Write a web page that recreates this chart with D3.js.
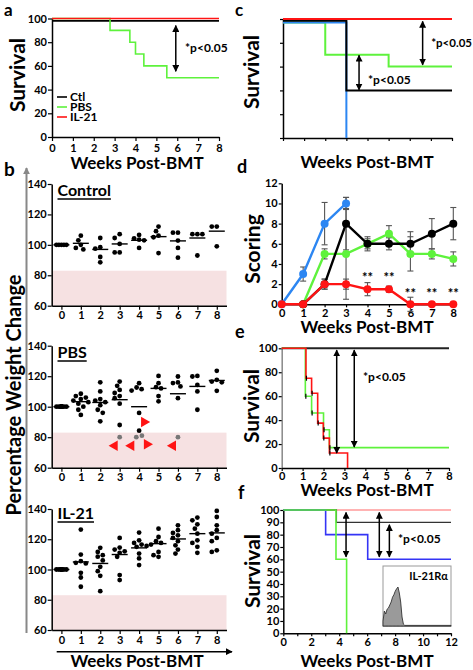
<!DOCTYPE html>
<html><head><meta charset="utf-8">
<script src="https://cdn.jsdelivr.net/npm/d3@7"></script>
<style>body{margin:0;background:#fff} text{font-family:Lato,'Open Sans',sans-serif;font-weight:700}</style>
</head><body><script>
// ---------------- DATA ----------------
const weeks = [0,1,2,3,4,5,6,7,8];
// panel a (survival, % ; step points [week, value])
const aCtl  = [[0,98],[8,98]];
const aPBS  = [[0,100],[2.78,90],[3.73,80],[4.0,70],[4.4,60],[5.5,50],[8,50]];
const aIL21 = [[0,100],[8,100]];
const legendNames = ["Ctl","PBS","IL-21"];
// panel b (percentage weight change per week)
const ctlValues = [[100,100,100,100,100],[106,103,100,98,97],[104.5,98.5,97.5,92,88.5],[107,104.5,100.6,95,95],[106.5,104.3,103.4,103,98],[112,109,106,105,94.6],[108,108,102.8,98,91.6],[107,107,107,93],[112,112,99]];
const ctlMeans  = [100,101,97,100.6,103,105.4,102.6,104.5,109];
const pbsValues = [[100,100,100,100,100,100,100,100,100,100],[108.5,107,106,105,104,103,102,100,98,94.6],[116,110,105,104,103,101,98,96,90.4],[116.5,113.7,111,109,107,105.6,102,88],[115.4,112.6,111.5,110.6,95.9,84.3],[120.2,115.4,112.8,112,107,103.5],[119.8,115.9,115.5,113.3,105.6],[120.2,119.8,114.3,110,98],[123.5,117.6,116.5,116,110.4]];
const pbsMeans  = [100,103.3,102.8,104.6,100,112,108.5,113.3,117.2];
const pbsDead   = [[3,80],[4,80],[4,81],[6,80]];           // grey points (week, value)
const pbsPointers = [[3,80,-60],[4,80,-60],[4,81,-120],[4,84.3,120],[6,80,-60]]; // red arrowheads: target (week,value), direction (deg)
const ilValues  = [[100,100,100,100,100,100,100,100],[126.4,109.9,105.5,104.4,104,97.8,94.7,88.6],[114.3,111.6,109.5,108.5,106,101.8,98.9,95.8,85.7],[120.9,114.5,113.2,112,111,108.4,96.3,93],[124.4,119.3,117.6,116.5,115.6,115,110.5,107.3,102.9],[127,121.5,118.7,117.6,116.5,111.6,109.5,108.4],[129.2,126,124.2,122.6,120.9,118.7,116,113.2,110.5],[134.3,132.5,129.9,127,123.7,119.3,117.6,115,111],[138.7,134.7,129.2,126,123.7,120.9,118.7,112.7,111.6]];
const ilMeans   = [100,105,104,109.9,114.3,117.1,120.2,123.7,124.2];
const weightThreshold = 83;
const bTitles = ["Control","PBS","IL-21"];
const bTicks = [60,80,100,120,140];
// panel c
const cRed   = [[0,100],[8,100]];
const cBlack = [[0,98.5],[3,40],[8,40]];
const cGreen = [[0,97],[2,70],[5,60],[8,60]];
const cBlue  = [[0,97],[3,0]];
// panel d (scoring, mean and error)
const dBlueW = [0,1,2,3],         dBlue = [0,3,8,10],             dBlueErr = [0,0.7,2.1,0.6];
const dBlackW = [1,2,3,4,5,6,7,8], dBlack = [0,2,8,6,6,6,7,8],     dBlackErr = [0,0.5,2.6,0.7,0.6,1.2,1.5,1.6];
const dGreenW = [1,2,3,4,5,6,7,8], dGreen = [0,5,5,6,7,5,5,4.5],   dGreenErr = [0,0.5,4.5,0.5,0.8,1.7,0.5,0.7];
const dRedW = [0,1,2,3,4,5,6,7,8], dRed = [0,0,2,2,1.5,1.5,0,0,0], dRedErr = [0,0,0.5,0.5,0.65,0.3,0.7,0,0];
const dStarW = [4,5,6,7,8], dStarLevel = [2.8,2.8,1.2,1.2,1.2];
const dTicks = [0,2,4,6,8,10,12];
// panel e
const eBlack = [[0,100],[8,100]];
const eGreen = [[0,100],[1.13,60],[1.43,46],[2.0,32],[2.28,17],[8,17]];
const eRed   = [[0,100],[1.16,75],[1.43,62.5],[1.72,37.5],[1.99,25],[2.28,12.5],[3.15,0]];
// panel f
const fRed   = [[0,100],[12,100]];
const fBlack = [[0,100],[3.8,90],[12,90]];
const fBlue  = [[0,100],[3.03,80],[6.04,60],[12,60]];
const fGreen = [[0,100],[3.77,60],[4.53,0]];
const fWeeks = [0,1,2,3,4,5,6,7,8,9,10,11,12];
const fTicksY = [0,10,20,30,40,50,60,70,80,90,100];
const histX = [0,0.02,0.04,0.06,0.08,0.1,0.12,0.14,0.16,0.18,0.2,0.22,0.24,0.26,0.28,0.3,0.32,1];
const histY = [8,25,20,28,30,35,40,48,52,58,62,65,55,40,15,3,1,1];

// ---------------- DRAWING ----------------
const GREEN="#5ef23c", RED="#ff1414", BLUE="#2c86f2", BLUE2="#3434f5", PINK="#f6e1e2";
const svg = d3.select("body").append("svg").attr("width",473).attr("height",670);
const defs = svg.append("defs");
defs.append("marker").attr("id","ah").attr("viewBox","0 0 10 10").attr("refX",9).attr("refY",5)
  .attr("markerWidth",7).attr("markerHeight",7).attr("markerUnits","userSpaceOnUse")
  .attr("orient","auto-start-reverse").append("path").attr("d","M0,0L10,5L0,10z").attr("fill","#000");
defs.append("marker").attr("id","ahg").attr("viewBox","0 0 10 10").attr("refX",9).attr("refY",5)
  .attr("markerWidth",7).attr("markerHeight",7).attr("markerUnits","userSpaceOnUse")
  .attr("orient","auto-start-reverse").append("path").attr("d","M0,0L10,5L0,10z").attr("fill","#888");

function styleAxis(g, fs=11, col="#000"){
  g.selectAll("text").attr("font-size",fs).attr("font-weight",700).attr("fill","#000");
  g.select(".domain").attr("stroke-width",1.5).attr("stroke",col);
  g.selectAll(".tick line").attr("stroke-width",1.2).attr("stroke","#000");
}
function text(x,y,s,size,anchor="start",rot=0){
  return svg.append("text").attr("transform",`translate(${x},${y}) rotate(${rot})`)
    .attr("font-size",size).attr("text-anchor",anchor).text(s);
}
function stepLine(x,y,data,color,w){
  svg.append("path").datum(data).attr("fill","none").attr("stroke",color).attr("stroke-width",w)
    .attr("d",d3.line().x(d=>x(d[0])).y(d=>y(d[1])).curve(d3.curveStepAfter));
}
function arrow(x,y,xv,v1,v2){
  svg.append("line").attr("x1",x(xv)).attr("x2",x(xv)).attr("y1",y(v1)).attr("y2",y(v2))
    .attr("stroke","#000").attr("stroke-width",1.5).attr("marker-start","url(#ah)").attr("marker-end","url(#ah)");
}

// ---- panel a ----
{
  const x=d3.scaleLinear([0,8],[52,219]), y=d3.scaleLinear([0,100],[137,18.5]);
  svg.append("g").attr("transform","translate(52,0)").call(d3.axisLeft(y).tickValues([0,20,40,60,80,100]).tickSize(4).tickSizeOuter(0).tickPadding(1)).call(styleAxis);
  svg.append("g").attr("transform","translate(0,137)").call(d3.axisBottom(x).tickValues(weeks).tickSize(4).tickSizeOuter(0).tickPadding(3)).call(styleAxis);
  stepLine(x,y,aCtl,"#000",1.6);
  stepLine(x,y,aPBS,GREEN,1.6);
  stepLine(x,y,aIL21,RED,1.6);
  arrow(x,y,5.93,94,55.5);
  text(185,52,"*p<0.05",12);
  [["#000",0],[GREEN,1],[RED,2]].forEach(([c,i])=>{
    svg.append("line").attr("x1",57).attr("x2",67).attr("y1",97+i*10).attr("y2",97+i*10).attr("stroke",c).attr("stroke-width",1.6);
    text(70,101+i*10,legendNames[i],12);
  });
  text(25,75,"Survival",21,"middle",-90);
  text(137,169,"Weeks Post-BMT",17,"middle");
  text(4,16,"a",17);
}

// ---- panel b ----
function swarm(x,y,week,vals){
  const placed=[]; const out=[];
  const cands=[0,-2.5,2.5,-5,5,-7.5,7.5];
  vals.forEach(v=>{
    const py=y(v); let best=null,bestD=-1;
    const same=vals.filter(u=>u===v).length>2;
    const cs= same ? [0,-2.5,2.5,-5,5] : cands;
    for(const c of cs){
      const px=x(week)+c;
      const md=placed.length? d3.min(placed,p=>Math.hypot(p[0]-px,p[1]-py)) : 99;
      if(md>=4.6){best=px;bestD=md;break;}
      if(md>bestD){bestD=md;best=px;}
    }
    placed.push([best,py]); out.push([best,py]);
  });
  return out;
}
function weightPanel(top,bottom,values,means,title,titleY){
  const x=d3.scaleLinear([-0.5,8.5],[51.7,226.5]);
  const y=d3.scaleLinear([60,140],[bottom,top]);
  svg.append("rect").attr("x",x(-0.5)).attr("width",x(8.5)-x(-0.5)).attr("y",y(weightThreshold)).attr("height",y(60)-y(weightThreshold)).attr("fill",PINK);
  svg.append("g").attr("transform","translate(51.7,0)").call(d3.axisLeft(y).tickValues(bTicks).tickSize(4).tickSizeOuter(0).tickPadding(1)).call(styleAxis);
  svg.append("g").attr("transform",`translate(0,${bottom})`).call(d3.axisBottom(x).tickValues(weeks).tickSize(4).tickSizeOuter(0).tickPadding(2)).call(styleAxis);
  values.forEach((vals,w)=>{
    swarm(x,y,w,vals).forEach(p=>svg.append("circle").attr("cx",p[0]).attr("cy",p[1]).attr("r",2.4).attr("fill","#000"));
    svg.append("line").attr("x1",x(w)-8).attr("x2",x(w)+8).attr("y1",y(means[w])).attr("y2",y(means[w])).attr("stroke","#000").attr("stroke-width",1.4);
  });
  const t=text(57.5,titleY,title,16);
  const len=t.node().getComputedTextLength();
  svg.append("line").attr("x1",57.5).attr("x2",57.5+len).attr("y1",titleY+3).attr("y2",titleY+3).attr("stroke","#000").attr("stroke-width",1.5);
  return {x,y};
}
weightPanel(184,305.7,ctlValues,ctlMeans,bTitles[0],196);
{
  const {x,y}=weightPanel(345.7,467.7,pbsValues,pbsMeans,bTitles[1],358);
  const offs={}; 
  pbsDead.forEach(([w,v])=>{ offs[w]=(offs[w]||0)+1; });
  const cnt={};
  const deadPos=pbsDead.map(([w,v])=>{ cnt[w]=(cnt[w]||0)+1; const o=offs[w]>1?(cnt[w]===1?-2.8:2.8):0; return [x(w)+o,y(v)]; });
  deadPos.forEach(p=>svg.append("circle").attr("cx",p[0]).attr("cy",p[1]).attr("r",2.4).attr("fill","#777"));
  const tri=d3.symbol().type(d3.symbolTriangle).size(48);
  pbsPointers.forEach(([w,v,ang],i)=>{
    let px=x(w), py=y(v);
    if(w===4 && v<=81){ px += (v===80?-2.8:2.8); }
    const rad=ang*Math.PI/180, dist=10;
    const cx=px-Math.cos(rad)*dist, cy=py-Math.sin(rad)*dist;
    svg.append("path").attr("d",tri()).attr("fill",RED)
      .attr("transform",`translate(${cx},${cy}) rotate(${ang+90})`);
  });
}
weightPanel(509,630,ilValues,ilMeans,bTitles[2],519);
svg.append("line").attr("x1",56.7).attr("x2",232).attr("y1",651.7).attr("y2",651.7).attr("stroke","#000").attr("stroke-width",1.5).attr("marker-end","url(#ah)");
svg.append("line").attr("x1",26.5).attr("x2",26.5).attr("y1",633).attr("y2",168).attr("stroke","#888").attr("stroke-width",2).attr("marker-end","url(#ahg)");
text(137,667,"Weeks Post-BMT",17,"middle");
text(21,395,"Percentage Weight Change",20,"middle",-90);
text(4,176,"b",19);

// ---- panel c ----
{
  const x=d3.scaleLinear([0,8],[283,452]), y=d3.scaleLinear([0,100],[138,19]);
  svg.append("g").attr("transform","translate(283,0)").call(d3.axisLeft(y).tickValues([0,20,40,60,80,100]).tickSize(3).tickSizeOuter(0).tickFormat("")).call(styleAxis);
  svg.append("g").attr("transform","translate(0,138)").call(d3.axisBottom(x).tickValues(weeks).tickSize(3).tickSizeOuter(0).tickFormat("")).call(styleAxis);
  stepLine(x,y,cGreen,GREEN,2);
  stepLine(x,y,cBlue,BLUE,2);
  stepLine(x,y,cBlack,"#000",2);
  stepLine(x,y,cRed,RED,2);
  arrow(x,y,6.61,98,61.5);
  arrow(x,y,3.6,69.5,40.5);
  text(472,47,"*p<0.05",11.5,"end");
  text(368,84,"*p<0.05",12);
  text(259,72,"Survival",21,"middle",-90);
  text(367,168,"Weeks Post-BMT",17,"middle");
  text(235,16,"c",17);
}

// ---- panel d ----
{
  const x=d3.scaleLinear([0,8],[281.7,453.3]), y=d3.scaleLinear([0,12],[304.3,183.3]);
  svg.append("g").attr("transform","translate(281.7,0)").call(d3.axisLeft(y).tickValues(dTicks).tickSize(3).tickSizeOuter(0).tickPadding(1)).call(styleAxis);
  svg.append("g").attr("transform","translate(0,304.3)").call(d3.axisBottom(x).tickValues(weeks).tickSize(3).tickSizeOuter(0).tickPadding(2)).call(styleAxis);
  const series=[[dBlueW,dBlue,dBlueErr,BLUE],[dGreenW,dGreen,dGreenErr,GREEN],[dBlackW,dBlack,dBlackErr,"#000"],[dRedW,dRed,dRedErr,RED]];
  series.forEach(([W,V,E,c])=>{
    W.forEach((w,i)=>{ if(E[i]>0){
      const g=svg.append("g").attr("stroke","#555").attr("stroke-width",1.1);
      g.append("line").attr("x1",x(w)).attr("x2",x(w)).attr("y1",y(V[i]-E[i])).attr("y2",y(V[i]+E[i]));
      [V[i]-E[i],V[i]+E[i]].forEach(v=>g.append("line").attr("x1",x(w)-3).attr("x2",x(w)+3).attr("y1",y(v)).attr("y2",y(v)));
    }});
  });
  series.forEach(([W,V,E,c])=>{
    svg.append("path").datum(W.map((w,i)=>[w,V[i]])).attr("fill","none").attr("stroke",c).attr("stroke-width",2.4)
      .attr("d",d3.line().x(d=>x(d[0])).y(d=>y(d[1])));
    W.forEach((w,i)=>svg.append("circle").attr("cx",x(w)).attr("cy",y(V[i])).attr("r",4).attr("fill",c));
  });
  dStarW.forEach((w,i)=>text(x(w),y(dStarLevel[i])+6,"**",13,"middle"));
  text(260,249,"Scoring",21,"middle",-90);
  text(367,333,"Weeks Post-BMT",17,"middle");
  text(237,173,"d",18);
}

// ---- panel e ----
{
  const x=d3.scaleLinear([0,8],[281.7,449]), y=d3.scaleLinear([0,100],[468,348.3]);
  svg.append("g").attr("transform","translate(281.7,0)").call(d3.axisLeft(y).tickValues([0,20,40,60,80,100]).tickSize(3).tickSizeOuter(0).tickPadding(1)).call(g=>styleAxis(g,11,"#888"));
  svg.append("g").attr("transform","translate(0,468)").call(d3.axisBottom(x).tickValues(weeks).tickSize(3).tickSizeOuter(0).tickPadding(1)).call(styleAxis);
  stepLine(x,y,eBlack,"#222",2);
  stepLine(x,y,eGreen,GREEN,1.6);
  stepLine(x,y,eRed,RED,1.6);
  [eGreen.slice(1,-1),eRed.slice(1,-1)].forEach(arr=>arr.forEach(d=>{
    svg.append("line").attr("x1",x(d[0])+0.5).attr("x2",x(d[0])+0.5).attr("y1",y(d[1])-2.5).attr("y2",y(d[1])+2.5).attr("stroke","#000").attr("stroke-width",1.2);
  }));
  arrow(x,y,2.63,98.5,12.5);
  arrow(x,y,3.47,98.5,17.5);
  text(363,381,"*p<0.05",12);
  text(259,406,"Survival",21,"middle",-90);
  text(367,496,"Weeks Post-BMT",17,"middle");
  text(235,338,"e",18);
}

// ---- panel f ----
{
  const x=d3.scaleLinear([0,12],[283.3,451]), y=d3.scaleLinear([0,100],[633.3,510]);
  svg.append("g").attr("transform","translate(283.3,0)").call(d3.axisLeft(y).tickValues(fTicksY).tickSize(3).tickSizeOuter(0).tickPadding(1)).call(styleAxis);
  svg.append("g").attr("transform","translate(0,633.3)").call(d3.axisBottom(x).tickValues(fWeeks).tickSize(3).tickSizeOuter(0).tickPadding(2).tickFormat(d=>d%2?"":d)).call(styleAxis);
  stepLine(x,y,fRed,"#ff9a9a",1.6);
  stepLine(x,y,fBlack,"#333",1.3);
  stepLine(x,y,fBlue,BLUE2,1.6);
  stepLine(x,y,fGreen,GREEN,1.6);
  arrow(x,y,4.49,98,62);
  arrow(x,y,6.87,98,62);
  arrow(x,y,7.59,88,62);
  text(398,543,"*p<0.05",12);
  // inset
  const ix=d3.scaleLinear([0,1],[383,451]), iy=d3.scaleLinear([0,100],[626,566]);
  svg.append("rect").attr("x",383).attr("y",566).attr("width",68).attr("height",60.5).attr("fill","#fff").attr("stroke","#999").attr("stroke-width",1);
  svg.append("path").datum(histX.map((h,i)=>[h,histY[i]])).attr("fill","#9a9a9a").attr("stroke","#333").attr("stroke-width",0.9)
    .attr("d",d3.area().x(d=>ix(d[0])).y0(iy(0)).y1(d=>iy(d[1])));
  text(448,580,"IL-21Rα",11,"end");
  text(260,571,"Survival",21,"middle",-90);
  text(367,667,"Weeks Post-BMT",17,"middle");
  text(238,499,"f",18);
}
</script></body></html>
